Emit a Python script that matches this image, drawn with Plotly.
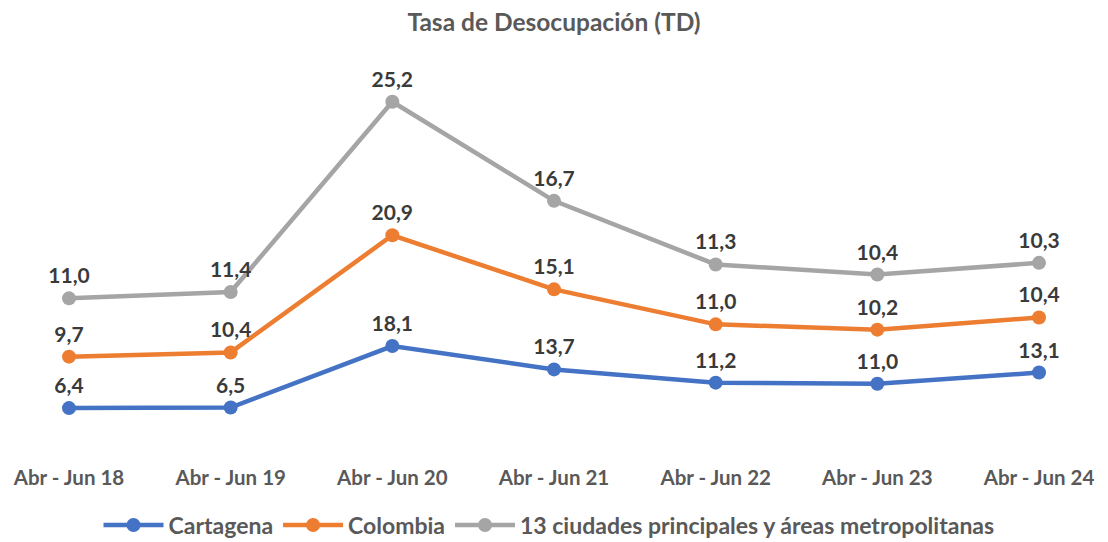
import plotly.graph_objects as go

categories = ["Abr - Jun 18", "Abr - Jun 19", "Abr - Jun 20", "Abr - Jun 21",
              "Abr - Jun 22", "Abr - Jun 23", "Abr - Jun 24"]
cartagena = [6.4, 6.5, 18.1, 13.7, 11.2, 11.0, 13.1]
colombia = [9.7, 10.4, 20.9, 15.1, 11.0, 10.2, 10.4]
ciudades = [11.0, 11.4, 25.2, 16.7, 11.3, 10.4, 10.3]

series = [
    ("Cartagena", cartagena, "#4472C4"),
    ("Colombia", colombia, "#ED7D31"),
    ("13 ciudades principales y áreas metropolitanas", ciudades, "#A5A5A5"),
]

FONT = "Lato"
fig = go.Figure()
for name, vals, color in series:
    fig.add_trace(go.Scatter(
        x=categories, y=vals, name=name, stackgroup="one", fill="none",
        mode="lines+markers+text",
        line=dict(color=color, width=4.5),
        marker=dict(color=color, size=14),
        text=[f"{v:.1f}".replace(".", ",") for v in vals],
        textposition="top center",
        textfont=dict(family=FONT, size=21, color="#3a3a3a", weight="bold"),
        hoverinfo="skip",
    ))

# page body adds an 8px offset; positions below are in figure coordinates
W, H = 1108, 542
top, base = 32, 434
ppu = 5.3
spacing = 161.67
x0 = 61
fig.update_layout(
    width=W, height=H,
    margin=dict(l=0, r=0, t=top, b=H - base),
    paper_bgcolor="white", plot_bgcolor="white",
    title=dict(text="<b>Tasa de Desocupación (TD)</b>", x=(554 - 8) / W, xanchor="center",
               y=1 - 14 / H, yanchor="middle",
               font=dict(family=FONT, size=24.5, color="#595959")),
    xaxis=dict(range=[-x0 / spacing, 6 + (W - x0 - 6 * spacing) / spacing],
               showgrid=False, zeroline=False,
               showline=False, ticks="outside", ticklen=0, ticklabelstandoff=17,
               tickfont=dict(family=FONT, size=20.5, color="#595959", weight="bold")),
    yaxis=dict(range=[0, (base - top) / ppu], visible=False, showgrid=False),
    legend=dict(orientation="h", x=(549 - 8) / W, xanchor="center",
                y=-(517 - base) / (base - top),
                yanchor="middle", itemwidth=60,
                font=dict(family=FONT, size=23, color="#595959", weight="bold"),
                traceorder="normal"),
    showlegend=True,
)
fig.write_html("out.html")
